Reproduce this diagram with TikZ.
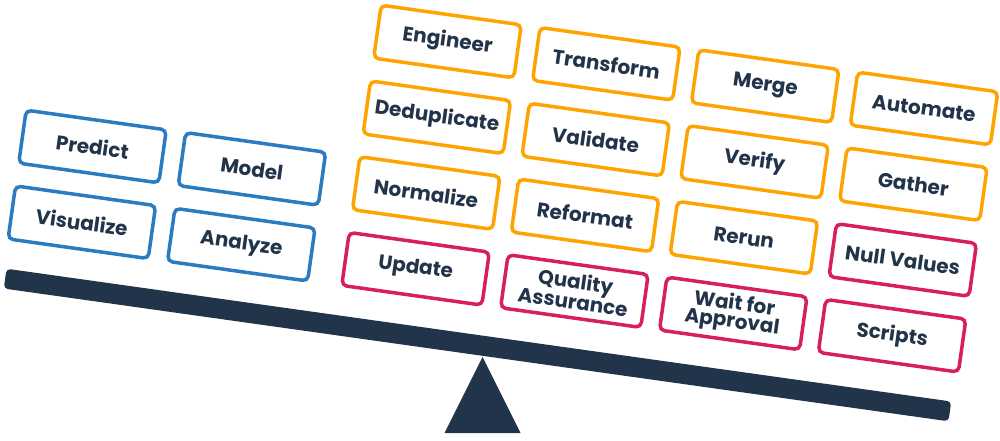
\documentclass[tikz,border=0pt]{standalone}
\usepackage{fontspec}
\setmainfont{Poppins}
\definecolor{navy}{HTML}{22344A}
\definecolor{boxblue}{HTML}{2A7BC0}
\definecolor{boxorange}{HTML}{FFA300}
\definecolor{boxpink}{HTML}{D81E5B}
\begin{document}
\begin{tikzpicture}[x=1pt,y=1pt,
  box/.style={draw, line width=3.5pt, rounded corners=5pt, minimum width=141.5pt,
    minimum height=53.5pt, inner sep=0pt, fill=white, text=navy,
    font=\fontsize{20}{18}\selectfont\bfseries, align=center},
  bluebox/.style={box, draw=boxblue},
  orangebox/.style={box, draw=boxorange},
  pinkbox/.style={box, draw=boxpink},
  beamstyle/.style={fill=navy, minimum width=954pt, minimum height=20pt, inner sep=0pt, rounded corners=4pt}]
\useasboundingbox (0,0) rectangle (1000,-440);

% beam and fulcrum
\node[beamstyle, rotate=-8] (beam) at (477.5,-345) {};
\coordinate (apex) at (482.5,-357);
\coordinate (baseL) at (444.5,-433);
\coordinate (baseR) at (520.5,-433);
\fill[navy] (apex) -- (baseL) -- (baseR) -- cycle;

% blue group
\begin{scope}[shift={(92.5,-146.5)}, rotate=-8, transform shape]
  \node[bluebox] (predict) at (0,0) {Predict};
  \node[bluebox] (model) at (161,0) {Model};
  \node[bluebox] (visualize) at (0,-76.5) {Visualize};
  \node[bluebox] (analyze) at (161,-76.5) {Analyze};
\end{scope}

% right group
\begin{scope}[shift={(447.5,-41.5)}, rotate=-8, transform shape]
  \node[orangebox] (engineer) at (0,0) {Engineer};
  \node[orangebox] (transform) at (160.4,0) {Transform};
  \node[orangebox] (merge) at (320.8,0) {Merge};
  \node[orangebox] (automate) at (481.2,0) {Automate};
  \node[orangebox] (dedup) at (0,-76.5) {Deduplicate};
  \node[orangebox] (validate) at (160.4,-76.5) {Validate};
  \node[orangebox] (verify) at (320.8,-76.5) {Verify};
  \node[orangebox] (gather) at (481.2,-76.5) {Gather};
  \node[orangebox] (normalize) at (0,-153) {Normalize};
  \node[orangebox] (reformat) at (160.4,-153) {Reformat};
  \node[orangebox] (rerun) at (320.8,-153) {Rerun};
  \node[pinkbox] (nullv) at (481.2,-153) {Null Values};
  \node[pinkbox] (update) at (0,-229.5) {Update};
  \node[pinkbox] (qa) at (160.4,-229.5) {Quality\\Assurance};
  \node[pinkbox] (wait) at (320.8,-229.5) {Wait for\\Approval};
  \node[pinkbox] (scripts) at (481.2,-229.5) {Scripts};
\end{scope}
\end{tikzpicture}
\end{document}
